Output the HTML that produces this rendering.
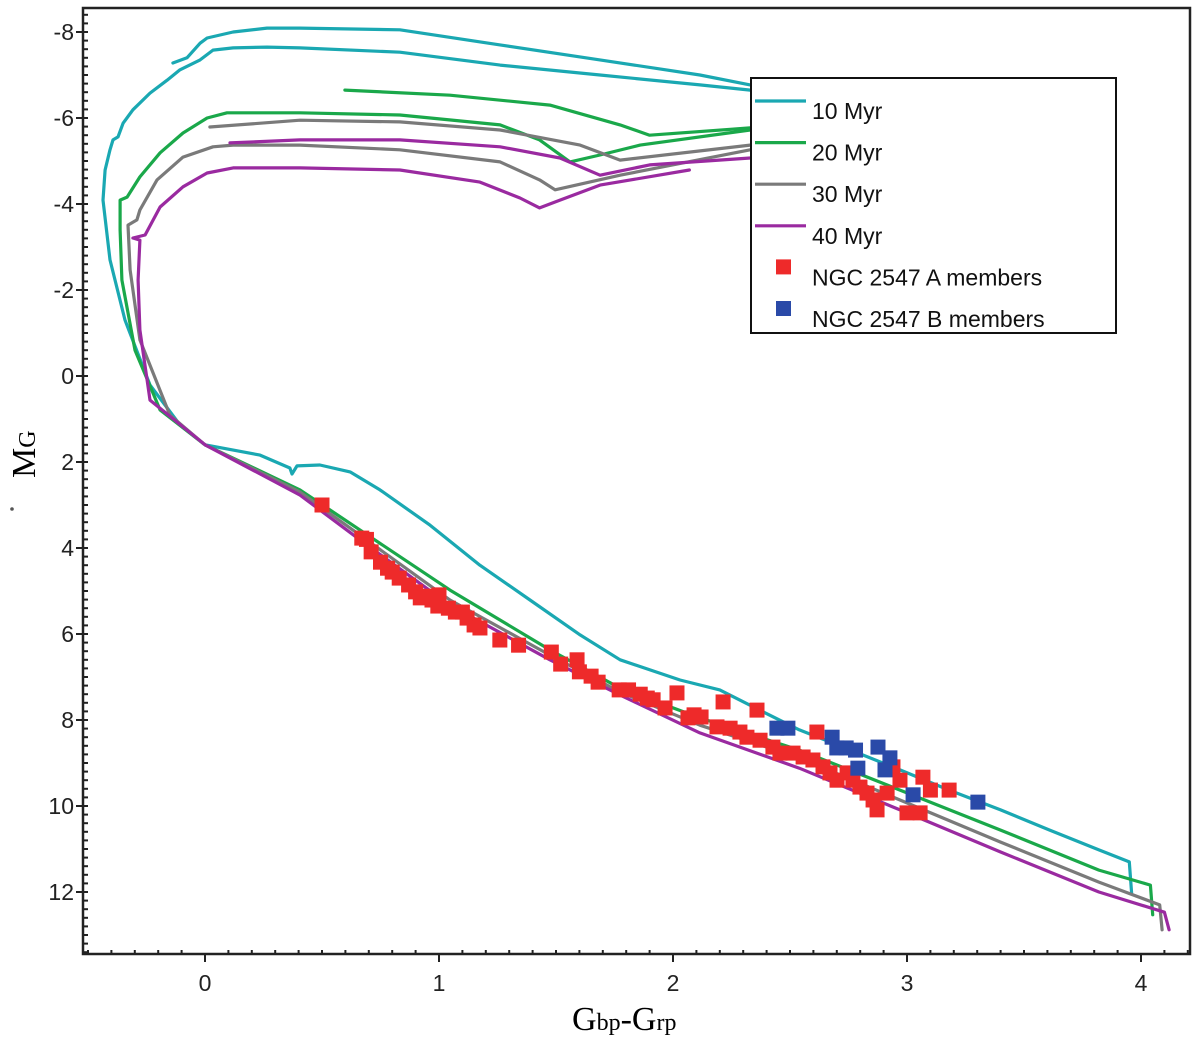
<!DOCTYPE html>
<html><head><meta charset="utf-8"><style>
html,body{margin:0;padding:0;background:#fff;}
svg{display:block;font-family:"Liberation Sans",sans-serif;}
</style></head><body>
<svg id="chart" width="1200" height="1041" viewBox="0 0 1200 1041">
<g id="series"></g>
<g id="axes"></g>
<g id="legend"></g>
<text transform="translate(35,478) rotate(-90)" font-family="Liberation Serif, serif" font-size="34">M<tspan font-size="24">G</tspan></text>
<circle cx="12" cy="509" r="1.8" fill="#555"/>
<text x="572" y="1030" font-family="Liberation Serif, serif" font-size="34">G<tspan font-size="24">bp</tspan>-G<tspan font-size="24">rp</tspan></text>
</svg>
<script>
const xTicks=[0,1,2,3,4];
const yTicks=[-8,-6,-4,-2,0,2,4,6,8,10,12];
const iso10a=[[0,1.6],[0.235,1.84],[0.363,2.14],[0.372,2.28],[0.393,2.09],[0.491,2.07],[0.62,2.23],[0.748,2.65],[0.962,3.47],[1.175,4.4],[1.389,5.21],[1.603,6.02],[1.774,6.6],[2.03,7.07],[2.2,7.3],[2.37,7.77],[2.54,8.23],[2.76,8.7],[2.97,9.16],[3.18,9.63],[3.4,10.09],[3.61,10.56],[3.82,11.02],[3.95,11.3],[3.96,12.02]];
const iso10b=[[0,1.6],[-0.107,1.14],[-0.235,0.21],[-0.342,-1.3],[-0.406,-2.7],[-0.436,-4.09],[-0.427,-4.79],[-0.406,-5.26],[-0.393,-5.49],[-0.372,-5.56],[-0.35,-5.88],[-0.308,-6.19],[-0.235,-6.58],[-0.162,-6.88],[-0.107,-7.12],[-0.021,-7.35],[0.034,-7.58],[0.12,-7.63],[0.265,-7.65],[0.406,-7.63],[0.833,-7.53],[1.261,-7.23],[1.688,-7.0],[2.115,-6.77],[2.33,-6.65]];
const iso10c=[[-0.137,-7.28],[-0.077,-7.4],[-0.021,-7.74],[0.009,-7.86],[0.12,-8.0],[0.265,-8.09],[0.406,-8.09],[0.833,-8.05],[1.261,-7.7],[1.688,-7.35],[2.115,-7.0],[2.33,-6.77]];
const iso20a=[[0,1.6],[0.406,2.65],[0.662,3.58],[1.047,4.98],[1.474,6.37],[1.774,7.26],[2.115,7.95],[2.54,8.7],[2.97,9.63],[3.4,10.56],[3.82,11.49],[4.04,11.84],[4.05,12.53]];
const iso20b=[[0,1.6],[-0.192,0.79],[-0.299,-0.6],[-0.355,-2.23],[-0.363,-3.4],[-0.363,-4.09],[-0.333,-4.16],[-0.278,-4.63],[-0.192,-5.19],[-0.094,-5.65],[0.009,-6.0],[0.094,-6.12],[0.406,-6.12],[0.833,-6.07],[1.261,-5.84],[1.43,-5.49],[1.56,-4.98],[1.688,-5.14],[1.86,-5.37],[2.33,-5.72]];
const iso20c=[[0.598,-6.65],[1.047,-6.53],[1.474,-6.3],[1.774,-5.84],[1.9,-5.6],[2.33,-5.77]];
const iso30a=[[0,1.6],[0.406,2.7],[0.662,3.7],[1.047,5.21],[1.474,6.49],[1.774,7.35],[2.115,8.12],[2.54,8.88],[2.97,9.86],[3.4,10.84],[3.82,11.77],[4.08,12.3],[4.09,12.88]];
const iso30b=[[0,1.6],[-0.15,0.91],[-0.278,-0.84],[-0.32,-2.47],[-0.329,-3.51],[-0.291,-3.63],[-0.278,-3.86],[-0.205,-4.56],[-0.094,-5.09],[0.034,-5.33],[0.12,-5.37],[0.406,-5.37],[0.833,-5.26],[1.261,-4.98],[1.43,-4.56],[1.496,-4.33],[1.774,-4.67],[2.33,-5.26]];
const iso30c=[[0.021,-5.79],[0.406,-5.95],[0.833,-5.91],[1.261,-5.72],[1.603,-5.37],[1.774,-5.02],[2.33,-5.37]];
const iso40a=[[0,1.6],[0.406,2.77],[0.662,3.81],[1.047,5.33],[1.474,6.6],[1.774,7.42],[2.115,8.3],[2.54,9.12],[2.97,10.09],[3.4,11.07],[3.82,12.0],[4.1,12.47],[4.12,12.88]];
const iso40b=[[0,1.6],[-0.235,0.56],[-0.278,-1.07],[-0.286,-2.23],[-0.278,-3.16],[-0.308,-3.21],[-0.256,-3.28],[-0.192,-3.93],[-0.094,-4.4],[0.009,-4.72],[0.12,-4.84],[0.406,-4.84],[0.833,-4.79],[1.175,-4.51],[1.346,-4.14],[1.43,-3.91],[1.517,-4.09],[1.688,-4.44],[2.07,-4.79]];
const iso40c=[[0.107,-5.42],[0.406,-5.49],[0.833,-5.49],[1.261,-5.33],[1.517,-5.07],[1.688,-4.67],[1.9,-4.91],[2.33,-5.07]];
const membersA=[[0.5,3.0],[0.67,3.77],[0.69,3.8],[0.71,4.09],[0.75,4.33],[0.78,4.47],[0.8,4.56],[0.83,4.7],[0.87,4.86],[0.9,5.02],[0.92,5.16],[0.94,5.12],[0.97,5.21],[0.995,5.35],[1.0,5.09],[1.04,5.4],[1.07,5.49],[1.1,5.49],[1.12,5.63],[1.15,5.79],[1.175,5.86],[1.26,6.14],[1.34,6.26],[1.48,6.42],[1.52,6.7],[1.59,6.6],[1.6,6.88],[1.65,6.98],[1.68,7.12],[1.77,7.3],[1.81,7.3],[1.86,7.4],[1.89,7.49],[1.915,7.53],[1.966,7.72],[2.017,7.37],[2.064,7.95],[2.09,7.88],[2.12,7.93],[2.188,8.16],[2.214,7.58],[2.244,8.19],[2.286,8.28],[2.316,8.4],[2.359,7.77],[2.372,8.47],[2.427,8.63],[2.457,8.77],[2.513,8.77],[2.556,8.86],[2.615,8.28],[2.598,8.93],[2.641,9.09],[2.671,9.23],[2.701,9.4],[2.744,9.23],[2.769,9.4],[2.799,9.56],[2.829,9.7],[2.855,9.86],[2.872,10.09],[2.915,9.7],[2.94,9.09],[2.97,9.4],[3.0,10.16],[3.056,10.16],[3.068,9.33],[3.1,9.63],[3.18,9.63]];
const membersB=[[2.444,8.19],[2.491,8.19],[2.68,8.4],[2.7,8.65],[2.74,8.65],[2.78,8.7],[2.876,8.63],[2.927,8.88],[2.79,9.12],[2.906,9.16],[3.026,9.74],[3.303,9.91]];
const legendLabels=["10 Myr","20 Myr","30 Myr","40 Myr","NGC 2547 A members","NGC 2547 B members"];

const NS="http://www.w3.org/2000/svg";
const X0=83,X1=1190,Y0=8,Y1=954;
function sx(v){return 205+v*234;}
function sy(v){return 376+v*43;}
function mk(t,a,p){const e=document.createElementNS(NS,t);for(const k in a)e.setAttribute(k,a[k]);p.appendChild(e);return e;}
const S=document.getElementById('series'),A=document.getElementById('axes'),L=document.getElementById('legend');
const defs=mk('defs',{},S);const cp=mk('clipPath',{id:'cp'},defs);mk('rect',{x:X0,y:Y0,width:X1-X0,height:Y1-Y0},cp);
const plot=mk('g',{'clip-path':'url(#cp)'},S);
const colors={c10:'#1aa8b2',c20:'#1aa84a',c30:'#7a7a7a',c40:'#9a2aa0'};
function line(pts,col,name){
  const d=pts.map((p,i)=>(i?'L':'M')+sx(p[0]).toFixed(1)+','+sy(p[1]).toFixed(1)).join(' ');
  const e=mk('path',{d:d,fill:'none',stroke:col,'stroke-width':3.2,'stroke-linejoin':'round','stroke-linecap':'round'},plot);
  
  
}
[[iso10a,'c10','isochrone-10myr-ms'],[iso10b,'c10','isochrone-10myr-upper'],[iso10c,'c10','isochrone-10myr-branch'],
 [iso20a,'c20','isochrone-20myr-ms'],[iso20b,'c20','isochrone-20myr-upper'],[iso20c,'c20','isochrone-20myr-branch'],
 [iso30a,'c30','isochrone-30myr-ms'],[iso30b,'c30','isochrone-30myr-upper'],[iso30c,'c30','isochrone-30myr-branch'],
 [iso40a,'c40','isochrone-40myr-ms'],[iso40b,'c40','isochrone-40myr-upper'],[iso40c,'c40','isochrone-40myr-branch']].forEach(s=>line(s[0],colors[s[1]],s[2]));
function pts(arr,col,name){arr.forEach(p=>{
  const r=mk('rect',{x:sx(p[0])-7.5,y:sy(p[1])-7.5,width:15,height:15,fill:col},plot);
  
  
});}
pts(membersA,'#ee2a2a','member-a-point');
pts(membersB,'#2a4aa8','member-b-point');
const fr=mk('rect',{x:X0,y:Y0,width:X1-X0,height:Y1-Y0,fill:'none',stroke:'#222','stroke-width':2.5},A);


for(let i=-5;i<=42;i++){const v=i/10;const x=sx(v);const maj=i%10===0;
  mk('line',{x1:x,x2:x,y1:maj?Y1:Y1-4,y2:maj?Y1+8:Y1,stroke:'#222','stroke-width':2},A);}
for(let i=-42;i<=67;i++){const v=i/5;const y=sy(v);const maj=i%10===0;
  mk('line',{x1:maj?X0-7:X0,x2:X0+5,y1:y,y2:y,stroke:'#222','stroke-width':2},A);}
xTicks.forEach(v=>{const t=mk('text',{x:sx(v),y:991,'font-size':23,'text-anchor':'middle',fill:'#222'},A);t.textContent=v;
  
  });
yTicks.forEach(v=>{const t=mk('text',{x:74,y:sy(v)+8,'font-size':23,'text-anchor':'end',fill:'#222'},A);t.textContent=v;
  
  });
const lb=mk('rect',{x:751,y:78,width:365,height:255,fill:'#fff',stroke:'#111','stroke-width':2},L);


const lcols=[colors.c10,colors.c20,colors.c30,colors.c40,'#ee2a2a','#2a4aa8'];
legendLabels.forEach((lab,i)=>{const y=105+i*41.6;
  const g=mk('g',{},L);
  
  
  if(i<4)mk('line',{x1:755,x2:806,y1:y-4,y2:y-4,stroke:lcols[i],'stroke-width':3.2},g);
  else mk('rect',{x:776,y:y-12,width:15,height:15,fill:lcols[i]},g);
  const t=mk('text',{x:812,y:y+14,'font-size':23,fill:'#111'},g);t.textContent=lab;});
</script>
</body></html>
